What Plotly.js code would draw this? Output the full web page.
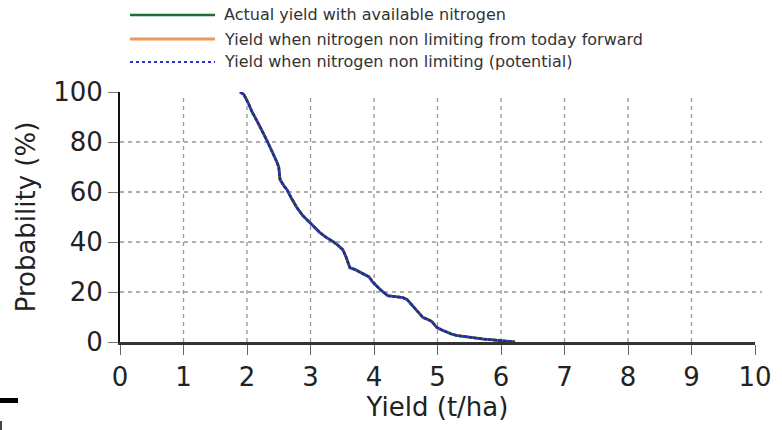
<!DOCTYPE html>
<html>
<head>
<meta charset="utf-8">
<script src="https://cdn.plot.ly/plotly-3.0.1.min.js"></script>
<style>
  html, body { margin: 0; padding: 0; background: #fff; }
  #chart { width: 782px; height: 430px; }
</style>
</head>
<body>
<div id="chart"></div>
<script>
// Cumulative yield probability (probability of exceeding a given yield)
const yieldTHa = [1.89, 1.95, 2.02, 2.08, 2.15, 2.23, 2.31, 2.38, 2.44, 2.47,
  2.50, 2.52, 2.58, 2.63, 2.70, 2.78, 2.88, 2.99, 3.07, 3.15,
  3.25, 3.36, 3.44, 3.51, 3.56, 3.60, 3.62, 3.70, 3.78, 3.85,
  3.92, 3.98, 4.05, 4.12, 4.22, 4.30, 4.38, 4.45, 4.52, 4.57,
  4.61, 4.69, 4.77, 4.85, 4.91, 4.95, 4.99, 5.07, 5.15, 5.22,
  5.30, 5.40, 5.51, 5.62, 5.72, 5.85, 5.98, 6.10, 6.22];
const probability = [100, 99, 95.6, 92, 88.8, 85, 80.8, 77, 74, 72,
  70, 65, 62.5, 60.9, 57.5, 54, 50.5, 47.7, 45.5, 43.7,
  41.8, 40.1, 38.5, 36.9, 34, 31, 29.7, 29, 28.1, 27,
  26.1, 24, 22.2, 20.5, 18.5, 18.2, 18.2, 17.8, 17, 15.5,
  14.2, 12, 9.8, 9, 8.2, 7, 5.8, 4.8, 3.8, 3.2,
  2.6, 2.2, 1.8, 1.5, 1.2, 0.9, 0.6, 0.3, 0];

// The three scenarios coincide for this season
const actualYield = probability;
const todayForwardYield = probability;
const potentialYield = probability;

const seriesNames = [
  'Actual yield with available nitrogen',
  'Yield when nitrogen non limiting from today forward',
  'Yield when nitrogen non limiting (potential)'
];
const xTicks = [0, 1, 2, 3, 4, 5, 6, 7, 8, 9, 10];
const yTicks = [0, 20, 40, 60, 80, 100];

const W = 782, H = 430;
const M = { l: 120, r: 27, t: 92, b: 88 };
const PW = W - M.l - M.r, PH = H - M.t - M.b;
const px = x => (x - M.l) / PW;            // pixel -> paper x
const py = y => (H - M.b - y) / PH;        // pixel -> paper y

const FONT = 'DejaVu Sans, Arial, sans-serif';
const cGreen = 'rgb(30,110,50)';
const cOrange = 'rgb(240,150,90)';
const cBlue = 'rgb(45,45,205)';

const traces = [
  { x: yieldTHa, y: todayForwardYield, name: seriesNames[1], mode: 'lines',
    line: { color: cOrange, width: 2.8 } },
  { x: yieldTHa, y: actualYield, name: seriesNames[0], mode: 'lines',
    line: { color: cGreen, width: 2.6 } },
  { x: yieldTHa, y: potentialYield, name: seriesNames[2], mode: 'lines',
    line: { color: 'rgb(40,40,175)', width: 2.6, dash: '4px,1px' } }
];

const shapes = [];
const gridStyle = { color: 'rgb(150,150,150)', width: 1.3, dash: '4px,4px' };
// dashed grid, inner ticks only
xTicks.filter(v => v > 0 && v < 10).forEach(v => shapes.push({
  type: 'line', layer: 'below', xref: 'x', yref: 'paper',
  x0: v, x1: v, y0: 0, y1: py(95), line: gridStyle }));
yTicks.filter(v => v > 0 && v < 100).forEach(v => shapes.push({
  type: 'line', layer: 'below', xref: 'paper', yref: 'y',
  x0: 0, x1: px(762), y0: v, y1: v, line: gridStyle }));

// legend rows drawn above the plot
const legendRows = [
  { y: 15, color: cGreen, dash: 'solid', width: 2.5 },
  { y: 39, color: cOrange, dash: 'solid', width: 3 },
  { y: 62, color: cBlue, dash: 'dot', width: 2 }
];
const annotations = [];
legendRows.forEach((r, i) => {
  shapes.push({ type: 'line', xref: 'paper', yref: 'paper',
    x0: px(130), x1: px(215), y0: py(r.y), y1: py(r.y),
    line: { color: r.color, width: r.width, dash: r.dash } });
  annotations.push({ xref: 'paper', yref: 'paper', x: px(222), y: py(r.y),
    xanchor: 'left', yanchor: 'middle', showarrow: false,
    text: seriesNames[i], font: { family: FONT, size: 16, color: '#333' } });
});

// small marks at the lower left corner
shapes.push({ type: 'rect', xref: 'paper', yref: 'paper',
  x0: px(0), x1: px(18), y0: py(398), y1: py(403),
  line: { width: 0 }, fillcolor: '#000' });
shapes.push({ type: 'rect', xref: 'paper', yref: 'paper',
  x0: px(0), x1: px(2), y0: py(421), y1: py(430),
  line: { width: 0 }, fillcolor: '#444' });

const layout = {
  width: W, height: H,
  margin: M,
  paper_bgcolor: '#fff', plot_bgcolor: '#fff',
  showlegend: false,
  font: { family: FONT, size: 26, color: '#222' },
  xaxis: {
    range: [0, 10], tickvals: xTicks, ticktext: xTicks.map(String),
    showgrid: false, zeroline: false,
    showline: true, linecolor: '#333', linewidth: 3,
    ticks: 'outside', ticklen: 10, tickwidth: 1, tickcolor: '#666',
    tickfont: { family: FONT, size: 26, color: '#222' },
    title: { text: 'Yield (t/ha)', font: { family: FONT, size: 26, color: '#222' }, standoff: 6 },
    automargin: false, fixedrange: true
  },
  yaxis: {
    range: [0, 100], tickvals: yTicks, ticktext: yTicks.map(String),
    showgrid: false, zeroline: false,
    showline: true, linecolor: '#111', linewidth: 2,
    ticks: 'outside', ticklen: 10, tickwidth: 1, tickcolor: '#777',
    tickfont: { family: FONT, size: 26, color: '#222' },
    title: { text: 'Probability (%)', font: { family: FONT, size: 26, color: '#222' }, standoff: 10 },
    automargin: false, fixedrange: true
  },
  shapes: shapes,
  annotations: annotations
};

Plotly.newPlot('chart', traces, layout, { displayModeBar: false, staticPlot: true });
</script>
</body>
</html>
